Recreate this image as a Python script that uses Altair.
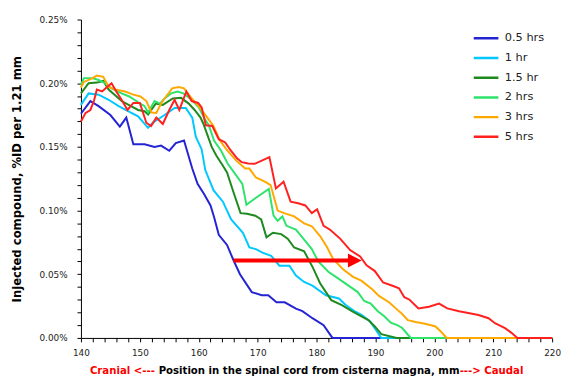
import altair as alt
import pandas as pd

series_names = ["0.5 hrs", "1 hr", "1.5 hr", " 2 hrs", "3 hrs", "5 hrs"]
series_colors = ["#2424d2", "#00c8ff", "#1e8a1e", "#2ee36b", "#ffa800", "#ff2020"]

x_05 = [140.0, 141.6, 143.0, 145.0, 146.6, 147.7, 148.9, 150.8, 152.5, 153.6, 155.0, 156.1, 157.5, 158.9,
        159.8, 160.9, 162.0, 162.6, 163.4, 164.8, 165.9, 167.0, 169.0, 170.7, 171.8, 173.2, 174.6, 176.5,
        177.6, 179.3, 181.2, 182.7, 220.0]
y_05 = [.176, .186, .182, .175, .166, .173, .152, .152, .150, .151, .147, .153, .155, .133,
        .121, .113, .104, .095, .081, .073, .061, .050, .036, .0335, .0335, .028, .028, .023,
        .021, .0155, .010, 0, 0]

x_1 = [140.0, 141.3, 143.0, 144.7, 146.4, 148.0, 149.7, 151.4, 152.2, 154.2, 155.9, 157.8, 158.9, 159.5,
       160.5, 161.1, 162.5, 164.1, 165.5, 167.5, 168.6, 169.7, 170.8, 172.3, 173.7, 175.4, 176.5, 177.9,
       179.3, 181.6, 183.8, 184.9, 186.6, 187.7, 189.1, 191.0, 220.0]
y_1 = [.183, .192, .191, .187, .182, .178, .174, .165, .169, .175, .1806, .1806, .173, .158,
       .148, .132, .116, .107, .093, .0826, .071, .0697, .067, .0645, .0567, .0567, .049, .0439,
       .041, .0335, .031, .026, .0206, .018, .013, 0, 0]

x_15 = [140.0, 141.3, 142.7, 143.8, 144.7, 146.9, 149.7, 150.8, 151.4, 152.7, 153.9, 155.6, 157.0, 158.3,
        159.3, 160.3, 160.8, 162.2, 163.0, 164.0, 164.8, 166.0, 167.1, 168.2, 169.6, 170.6, 171.5, 172.6,
        174.0, 175.1, 176.2, 177.9, 179.4, 180.6, 182.5, 184.3, 186.0, 187.7, 188.8, 189.9, 191.0, 193.6, 220.0]
y_15 = [.192, .200, .2005, .2018, .195, .186, .179, .178, .1755, .184, .183, .188, .1885, .184,
        .179, .173, .168, .150, .143, .136, .130, .113, .098, .0975, .096, .093, .079, .0826,
        .0815, .078, .071, .068, .055, .043, .0297, .0258, .021, .0168, .014, .009, .003, 0, 0]

x_2 = [140.0, 140.5, 141.9, 143.0, 144.1, 145.2, 146.9, 148.2, 149.9, 150.8, 151.4, 152.5, 153.4, 154.2,
       155.3, 156.4, 157.4, 158.8, 160.0, 161.0, 161.7, 162.6, 163.8, 164.9, 166.3, 167.4, 168.1, 169.6,
       171.9, 172.7, 173.4, 174.2, 174.9, 176.5, 178.1, 179.2, 180.3, 182.0, 183.6, 185.3, 187.0, 188.1,
       189.2, 190.4, 191.5, 192.6, 193.7, 194.5, 196.0, 220.0]
y_2 = [.1986, .204, .204, .2025, .200, .196, .192, .1896, .1845, .182, .177, .186, .184, .188,
       .192, .1935, .192, .187, .181, .172, .167, .155, .147, .137, .128, .121, .1045, .1097,
       .117, .096, .092, .0954, .088, .085, .076, .0697, .060, .052, .047, .0415, .036, .029,
       .027, .021, .017, .012, .010, .008, 0, 0]

x_3 = [140.0, 140.5, 141.9, 142.7, 143.8, 144.7, 145.8, 147.5, 148.9, 150.1, 151.1, 152.0, 152.8, 153.6,
       154.2, 155.5, 156.6, 157.5, 158.3, 159.0, 160.0, 161.3, 162.5, 163.6, 164.7, 166.4, 167.9, 168.6,
       169.7, 171.3, 172.2, 173.4, 174.5, 176.2, 177.9, 179.2, 180.6, 181.7, 182.8, 184.5, 186.2, 187.6,
       189.5, 190.6, 192.3, 193.5, 194.5, 195.5, 196.8, 198.2, 199.1, 200.2, 201.1, 202.1, 220.0]
y_3 = [.1966, .201, .2038, .206, .205, .197, .195, .1935, .191, .1896, .186, .177, .1767, .184,
       .188, .196, .197, .196, .191, .187, .182, .174, .1664, .155, .148, .139, .133, .133,
       .126, .1226, .120, .100, .098, .0954, .090, .0877, .080, .072, .062, .054, .048, .045,
       .038, .033, .028, .023, .019, .014, .0125, .0113, .0103, .009, .005, 0, 0]

x_5 = [140.0, 140.8, 141.6, 142.2, 142.7, 143.6, 144.2, 145.2, 146.0, 146.9, 147.9, 148.9, 150.0, 151.1,
       151.9, 152.8, 153.9, 155.0, 155.9, 156.7, 157.9, 158.8, 159.9, 160.5, 161.2, 162.3, 163.4, 164.5,
       165.3, 166.5, 167.3, 168.4, 169.5, 170.6, 172.0, 173.1, 174.4, 175.6, 176.9, 178.1, 179.2, 180.1,
       181.2, 182.3, 184.0, 185.7, 187.4, 188.5, 189.9, 191.3, 192.9, 194.0, 194.9, 195.8, 197.3, 199.1,
       200.8, 202.2, 204.2, 207.5, 209.2, 210.3, 212.0, 213.1, 214.1, 220.0]
y_5 = [.170, .1767, .179, .186, .195, .1935, .196, .200, .1935, .187, .179, .1845, .1845, .169,
       .1664, .173, .168, .179, .187, .179, .1935, .186, .1845, .181, .167, .1664, .156, .1535,
       .148, .141, .138, .137, .1367, .139, .142, .1174, .1226, .107, .1057, .104, .098, .101,
       .088, .085, .078, .069, .064, .057, .0525, .0435, .041, .039, .032, .030, .0232, .0245,
       .027, .0232, .021, .018, .0155, .0116, .0077, .004, 0, 0]

arrow_x_start = 165.9
arrow_x_end = 186.0
arrow_head_x = 186.5
arrow_y = 0.0608

x_ticks = list(range(140, 221, 2))
y_ticks = [round(i * 0.01, 2) for i in range(26)]

title_left = "Cranial <---"
title_mid = "Position in the spinal cord from cisterna magna, mm"
title_right = "---> Caudal"
y_title = "Injected compound, %ID per 1.21 mm"

rows = []
for name, xs, ys in zip(series_names, [x_05, x_1, x_15, x_2, x_3, x_5], [y_05, y_1, y_15, y_2, y_3, y_5]):
    for i, (a, b) in enumerate(zip(xs, ys)):
        rows.append({"series": name, "x": a, "y": b, "order": i})
df = pd.DataFrame(rows)

FONT = "DejaVu Sans"
x_scale = alt.Scale(domain=[140, 220], nice=False, zero=False)
y_scale = alt.Scale(domain=[0, 0.25], nice=False)

x_axis = alt.Axis(
    values=x_ticks, labelExpr="datum.value % 10 == 0 ? datum.label : ''",
    title=None, grid=False, tickSize=4, tickColor="black", domainColor="black",
    labelFont=FONT, labelFontSize=9, labelColor="#222222", labelPadding=7,
    labelOverlap=False, labelFlush=False)
y_axis = alt.Axis(
    values=y_ticks,
    labelExpr="round(datum.value*100) % 5 == 0 ? format(datum.value, '.2f') + '%' : ''",
    title=y_title, grid=False, tickSize=4, tickColor="black", domainColor="black",
    labelFont=FONT, labelFontSize=9, labelColor="#222222", labelPadding=10,
    labelOverlap=False, labelFlush=False,
    titleFont=FONT, titleFontSize=11.8, titleFontWeight="bold", titleColor="black",
    titleX=-65, titleY=161.5, titleAngle=270, titleAlign="center", titleBaseline="middle")

lines = alt.Chart(df).mark_line(strokeWidth=2).encode(
    x=alt.X("x:Q", scale=x_scale, axis=x_axis),
    y=alt.Y("y:Q", scale=y_scale, axis=y_axis),
    color=alt.Color("series:N", scale=alt.Scale(domain=series_names, range=series_colors),
                    legend=alt.Legend(title=None, orient="none", legendX=397, legendY=9,
                                      symbolType="stroke", symbolStrokeWidth=2.5, symbolSize=625,
                                      labelFont=FONT, labelFontSize=11.5, labelColor="#222222",
                                      rowPadding=0, clipHeight=20, labelOffset=5, padding=0)),
    order="order:Q",
)

arrow_df = pd.DataFrame({"x": [arrow_x_start], "x2": [arrow_x_end], "y": [arrow_y]})
rule = alt.Chart(arrow_df).mark_rule(color="#ff0000", strokeWidth=4).encode(
    x=alt.X("x:Q", scale=x_scale, axis=x_axis), x2="x2:Q", y=alt.Y("y:Q", scale=y_scale, axis=y_axis))
head_df = pd.DataFrame({"x": [arrow_head_x], "y": [arrow_y]})
head = alt.Chart(head_df).mark_point(shape="M -1 -1 L 1 0 L -1 1 Z", filled=True, size=196,
                                     color="#ff0000", opacity=1).encode(
    x=alt.X("x:Q", scale=x_scale, axis=x_axis), y=alt.Y("y:Q", scale=y_scale, axis=y_axis))

t_left = alt.Chart(pd.DataFrame({"t": [title_left]})).mark_text(
    font=FONT, fontSize=10.3, fontWeight="bold", color="#ff0000", align="right", baseline="middle"
).encode(text="t:N", x=alt.value(75), y=alt.value(357))
t_mid = alt.Chart(pd.DataFrame({"t": [title_mid]})).mark_text(
    font=FONT, fontSize=10.3, fontWeight="bold", color="black", align="center", baseline="middle"
).encode(text="t:N", x=alt.value(231.4), y=alt.value(357))
t_right = alt.Chart(pd.DataFrame({"t": [title_right]})).mark_text(
    font=FONT, fontSize=10.3, fontWeight="bold", color="#ff0000", align="left", baseline="middle"
).encode(text="t:N", x=alt.value(384.2), y=alt.value(357))

chart = alt.layer(lines, rule, head, t_left, t_mid, t_right).properties(
    width=478, height=323,
    autosize=alt.AutoSizeParams(type="none"),
    padding={"left": 74, "top": 9, "right": 9, "bottom": 42},
).configure_view(stroke=None)

chart.save("out.html", embed_options={"renderer": "svg", "actions": False})
